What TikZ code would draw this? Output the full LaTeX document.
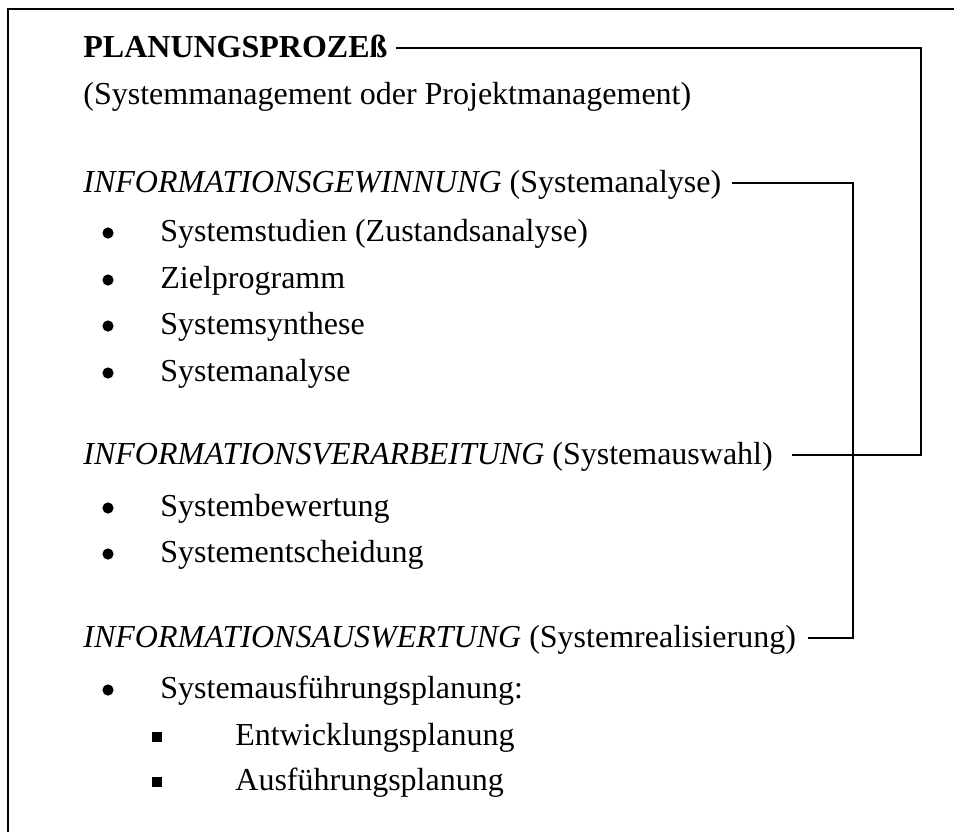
\documentclass[tikz,border=0pt]{standalone}
\usepackage{fontspec}
\setmainfont{Liberation Serif}
\tikzset{
  txt/.style={anchor=base west, inner sep=0pt, text height=12pt, text depth=3pt, font=\fontsize{16}{19}\selectfont},
  dot/.style={circle, fill=black, inner sep=0pt, minimum size=5.6pt},
  sq/.style={rectangle, fill=black, inner sep=0pt, minimum size=4.8pt},
  conn/.style={line width=0.9pt},
  frame/.style={line width=1.3pt}
}
\begin{document}
\begin{tikzpicture}[x=0.5pt,y=-0.5pt]
\useasboundingbox (0,0) rectangle (954,832);
\draw[frame] (954,9) -- (8,9) -- (8,832);

\node[txt] (plan) at (83,57) {\textbf{PLANUNGSPROZEß}};
\node[txt] (sub) at (83,104) {(Systemmanagement oder Projektmanagement)};

\node[txt] (gew) at (83,192) {\textit{INFORMATIONSGEWINNUNG} (Systemanalyse)};
\node[txt] (g1) at (160,241) {Systemstudien (Zustandsanalyse)};
\node[txt] (g2) at (160,288) {Zielprogramm};
\node[txt] (g3) at (160,334) {Systemsynthese};
\node[txt] (g4) at (160,381) {Systemanalyse};

\node[txt] (ver) at (83,464) {\textit{INFORMATIONSVERARBEITUNG} (Systemauswahl)};
\node[txt] (v1) at (160,516) {Systembewertung};
\node[txt] (v2) at (160,562) {Systementscheidung};

\node[txt] (aus) at (83,647) {\textit{INFORMATIONSAUSWERTUNG} (Systemrealisierung)};
\node[txt] (a1) at (160,698) {Systemausführungsplanung:};
\node[txt] (a2) at (235,745) {Entwicklungsplanung};
\node[txt] (a3) at (235,790) {Ausführungsplanung};

\foreach \n in {g1,g2,g3,g4,v1,v2,a1}{
  \node[dot] (b\n) at ([yshift=-0.5pt]\n.west -| 108,0) {};
}
\foreach \n in {a2,a3}{
  \node[sq] (b\n) at ([yshift=-0.5pt]\n.west -| 157,0) {};
}

\coordinate (r1) at (921,0);
\coordinate (r2) at (853,0);
\draw[conn] ([xshift=4pt]plan.east) -- (plan.east -| r1) -- (ver.east -| r1) -- ([xshift=9.5pt]ver.east);
\draw[conn] ([xshift=5pt]gew.east) -- (gew.east -| r2) -- (aus.east -| r2) -- ([xshift=6pt]aus.east);
\end{tikzpicture}
\end{document}
